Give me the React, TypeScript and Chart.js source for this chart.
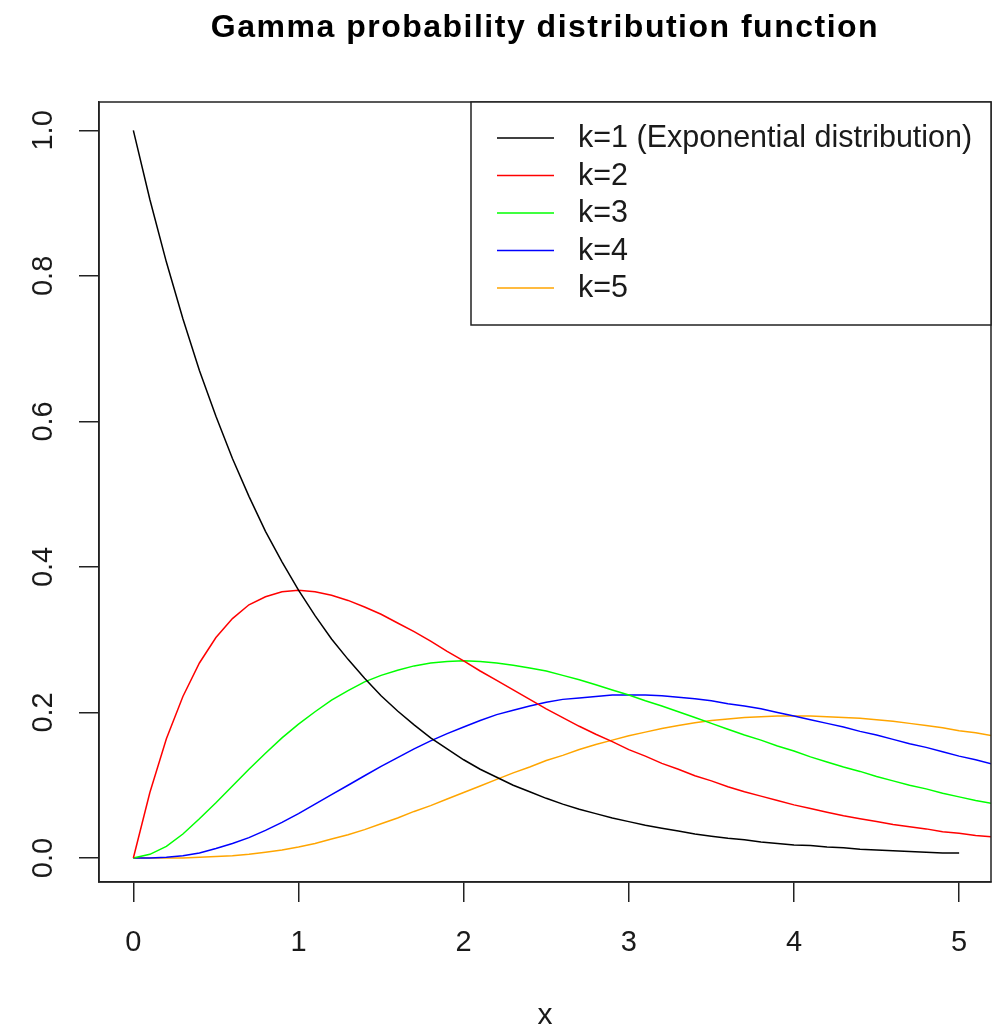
import React, { useEffect, useRef } from "react";
import { Chart, registerables } from "chart.js";

Chart.register(...registerables);

const TITLE = "Gamma probability distribution function";
const X_LABEL = "x";
const X_TICKS = [0, 1, 2, 3, 4, 5];
const Y_TICKS = [0, 0.2, 0.4, 0.6, 0.8, 1.0];
const Y_TICK_LABELS = ["0.0", "0.2", "0.4", "0.6", "0.8", "1.0"];

const SERIES_LABELS = [
  "k=1 (Exponential distribution)",
  "k=2",
  "k=3",
  "k=4",
  "k=5",
];
const SERIES_COLORS = ["#000000", "#ff0000", "#00ff00", "#0000ff", "#ffa500"];

// x positions 0.0, 0.1, ..., 5.4
const X_VALUES = [
  0.0, 0.1, 0.2, 0.3, 0.4, 0.5, 0.6, 0.7, 0.8, 0.9,
  1.0, 1.1, 1.2, 1.3, 1.4, 1.5, 1.6, 1.7, 1.8, 1.9,
  2.0, 2.1, 2.2, 2.3, 2.4, 2.5, 2.6, 2.7, 2.8, 2.9,
  3.0, 3.1, 3.2, 3.3, 3.4, 3.5, 3.6, 3.7, 3.8, 3.9,
  4.0, 4.1, 4.2, 4.3, 4.4, 4.5, 4.6, 4.7, 4.8, 4.9,
  5.0, 5.1, 5.2, 5.3, 5.4,
];

// k=1 ends at x = 5.0
const K1 = [
  1.000, 0.905, 0.819, 0.741, 0.670, 0.607, 0.549, 0.497, 0.449, 0.407,
  0.368, 0.333, 0.301, 0.273, 0.247, 0.223, 0.202, 0.183, 0.165, 0.150,
  0.135, 0.122, 0.111, 0.100, 0.091, 0.082, 0.074, 0.067, 0.061, 0.055,
  0.050, 0.045, 0.041, 0.037, 0.033, 0.030, 0.027, 0.025, 0.022, 0.020,
  0.018, 0.017, 0.015, 0.014, 0.012, 0.011, 0.010, 0.009, 0.008, 0.007,
  0.007,
];
const K2 = [
  0.000, 0.090, 0.164, 0.222, 0.268, 0.303, 0.329, 0.348, 0.359, 0.366,
  0.368, 0.366, 0.361, 0.354, 0.345, 0.335, 0.323, 0.311, 0.298, 0.284,
  0.271, 0.257, 0.244, 0.231, 0.218, 0.205, 0.193, 0.181, 0.170, 0.160,
  0.149, 0.140, 0.130, 0.122, 0.113, 0.106, 0.098, 0.091, 0.085, 0.079,
  0.073, 0.068, 0.063, 0.058, 0.054, 0.050, 0.046, 0.043, 0.040, 0.036,
  0.034, 0.031, 0.029, 0.026, 0.024,
];
const K3 = [
  0.000, 0.005, 0.016, 0.033, 0.054, 0.076, 0.099, 0.122, 0.144, 0.165,
  0.184, 0.201, 0.217, 0.230, 0.242, 0.251, 0.258, 0.264, 0.268, 0.270,
  0.271, 0.270, 0.268, 0.265, 0.261, 0.257, 0.251, 0.245, 0.238, 0.231,
  0.224, 0.216, 0.209, 0.201, 0.193, 0.185, 0.177, 0.169, 0.162, 0.154,
  0.147, 0.139, 0.132, 0.125, 0.119, 0.112, 0.106, 0.100, 0.095, 0.089,
  0.084, 0.079, 0.075, 0.070, 0.066,
];
const K4 = [
  0.000, 0.000, 0.001, 0.003, 0.007, 0.013, 0.020, 0.028, 0.038, 0.049,
  0.061, 0.074, 0.087, 0.100, 0.113, 0.126, 0.138, 0.150, 0.161, 0.171,
  0.180, 0.189, 0.197, 0.203, 0.209, 0.214, 0.218, 0.220, 0.222, 0.224,
  0.224, 0.224, 0.223, 0.221, 0.219, 0.216, 0.212, 0.209, 0.205, 0.200,
  0.195, 0.190, 0.185, 0.180, 0.174, 0.169, 0.163, 0.157, 0.152, 0.146,
  0.140, 0.135, 0.129, 0.124, 0.119,
];
const K5 = [
  0.000, 0.000, 0.000, 0.000, 0.001, 0.002, 0.003, 0.005, 0.008, 0.011,
  0.015, 0.020, 0.026, 0.032, 0.039, 0.047, 0.055, 0.064, 0.072, 0.081,
  0.090, 0.099, 0.108, 0.117, 0.125, 0.134, 0.141, 0.149, 0.156, 0.162,
  0.168, 0.173, 0.178, 0.182, 0.186, 0.189, 0.191, 0.193, 0.194, 0.195,
  0.195, 0.195, 0.194, 0.193, 0.192, 0.190, 0.188, 0.185, 0.182, 0.179,
  0.175, 0.172, 0.168, 0.164, 0.160,
];

const SERIES_VALUES = [K1, K2, K3, K4, K5];

const FONT = "'Liberation Sans', Arial, Helvetica, sans-serif";
const TEXT_COLOR = "#1a1a1a";

const rPlotPlugin = {
  id: "rPlotDecor",
  afterDraw(chart: any) {
    const { ctx, chartArea, scales } = chart;
    const { left, right, top, bottom } = chartArea;
    ctx.save();

    // plot box
    ctx.strokeStyle = "#222";
    ctx.lineWidth = 1.5;
    ctx.strokeRect(left, top, right - left, bottom - top);

    // title
    ctx.fillStyle = "#000";
    ctx.font = `bold 32px ${FONT}`;
    (ctx as any).letterSpacing = "1.5px";
    ctx.textAlign = "center";
    ctx.textBaseline = "alphabetic";
    ctx.fillText(TITLE, (left + right) / 2, 37);
    (ctx as any).letterSpacing = "0px";

    // x axis label
    ctx.fillStyle = TEXT_COLOR;
    ctx.font = `30px ${FONT}`;
    ctx.textAlign = "center";
    ctx.textBaseline = "middle";
    ctx.fillText(X_LABEL, (left + right) / 2, 1016);

    // y tick labels (rotated, R style)
    const ys = scales.y;
    ctx.font = `29px ${FONT}`;
    Y_TICKS.forEach((v, i) => {
      const py = ys.getPixelForValue(v);
      ctx.save();
      ctx.translate(44, py);
      ctx.rotate(-Math.PI / 2);
      ctx.textAlign = "center";
      ctx.textBaseline = "middle";
      ctx.fillText(Y_TICK_LABELS[i], 0, 0);
      ctx.restore();
    });

    // legend
    const lx = 471;
    const ly = top;
    const lh = 325 - top;
    ctx.fillStyle = "#fff";
    ctx.fillRect(lx, ly, right - lx, lh);
    ctx.strokeStyle = "#222";
    ctx.lineWidth = 1.5;
    ctx.strokeRect(lx, ly, right - lx, lh);
    const rowY0 = 138;
    const rowStep = 37.5;
    chart.data.datasets.forEach((ds: any, i: number) => {
      const yy = rowY0 + i * rowStep;
      ctx.strokeStyle = ds.borderColor;
      ctx.lineWidth = 1.5;
      ctx.beginPath();
      ctx.moveTo(497, yy);
      ctx.lineTo(554, yy);
      ctx.stroke();
      ctx.fillStyle = TEXT_COLOR;
      ctx.font = `30.5px ${FONT}`;
      ctx.textAlign = "left";
      ctx.textBaseline = "middle";
      ctx.fillText(ds.label, 578, yy + 1);
    });

    ctx.restore();
  },
};

export default function App() {
  const canvasRef = useRef<HTMLCanvasElement | null>(null);

  useEffect(() => {
    const canvas = canvasRef.current;
    if (!canvas) return;
    const datasets = SERIES_VALUES.map((vals, i) => ({
      label: SERIES_LABELS[i],
      data: vals.map((y, j) => ({ x: X_VALUES[j], y })),
      borderColor: SERIES_COLORS[i],
      backgroundColor: SERIES_COLORS[i],
      borderWidth: 1.5,
      pointRadius: 0,
      tension: 0,
      fill: false,
    }));

    const chart = new Chart(canvas, {
      type: "line",
      data: { datasets },
      options: {
        animation: false,
        responsive: false,
        devicePixelRatio: 1,
        layout: { padding: { left: 0, right: 7, top: 102, bottom: 0 } },
        plugins: {
          legend: { display: false },
          title: { display: false },
          tooltip: { enabled: false },
        },
        scales: {
          x: {
            type: "linear",
            min: -0.208,
            max: 5.193,
            afterBuildTicks: (scale: any) => {
              scale.ticks = X_TICKS.map((v) => ({ value: v }));
            },
            afterFit: (scale: any) => {
              scale.height = 148;
            },
            grid: {
              drawOnChartArea: false,
              drawTicks: true,
              tickLength: 20,
              color: "#222",
              lineWidth: 1.5,
            },
            border: { display: true, color: "#222", width: 1.5 },
            ticks: {
              color: TEXT_COLOR,
              font: { family: FONT, size: 29 },
              padding: 24,
              maxRotation: 0,
              minRotation: 0,
              callback: (v: any) => String(v),
            },
          },
          y: {
            type: "linear",
            min: -0.033,
            max: 1.039,
            afterBuildTicks: (scale: any) => {
              scale.ticks = Y_TICKS.map((v) => ({ value: v }));
            },
            afterFit: (scale: any) => {
              scale.width = 99;
            },
            grid: {
              drawOnChartArea: false,
              drawTicks: true,
              tickLength: 20,
              color: "#222",
              lineWidth: 1.5,
            },
            border: { display: true, color: "#222", width: 1.5 },
            ticks: { display: false },
          },
        },
      },
      plugins: [rPlotPlugin],
    } as any);

    return () => chart.destroy();
  }, []);

  return (
    <div style={{ position: "absolute", left: 0, top: 0, width: 998, height: 1030, background: "#fff" }}>
      <canvas ref={canvasRef} width={998} height={1030} style={{ width: 998, height: 1030, display: "block" }} />
    </div>
  );
}
